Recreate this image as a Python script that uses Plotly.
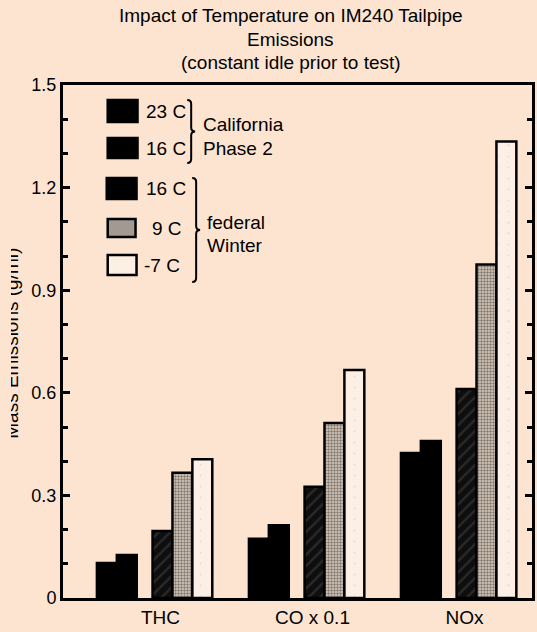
import plotly.graph_objects as go

# ---- data ----
categories = ["THC", "CO x 0.1", "NOx"]
ca_23C = [0.102, 0.173, 0.424]
ca_16C = [0.126, 0.213, 0.459]
fed_16C = [0.196, 0.325, 0.611]
fed_9C = [0.366, 0.512, 0.975]
fed_m7C = [0.406, 0.667, 1.335]
y_ticks = [0, 0.3, 0.6, 0.9, 1.2, 1.5]
y_ticktext = ["0", "0.3", "0.6", "0.9", "1.2", "1.5"]

# ---- layout geometry ----
W, H = 537, 632
L, R, T, B = 63, 2, 85, 34
PW, PH = W - L - R, H - T - B
BG = "#fde4d0"
FONT = "Liberation Sans, Arial, sans-serif"

def px(x):
    return (x - L) / PW

def py(y):
    return (H - B - y) / PH

xs = list(range(len(categories)))
bw = 0.131
series = [
    ("23 C", ca_23C, -0.418, dict(color="black")),
    ("16 C", ca_16C, -0.287, dict(color="black")),
    ("16 C fed", fed_16C, -0.052, dict(color="black", pattern=dict(shape="/", bgcolor="#0e0e0e", fgcolor="#4a4541", size=8, solidity=0.3))),
    ("9 C", fed_9C, 0.079, dict(color="#a09890", pattern=dict(shape=".", bgcolor="#d9cbbe", fgcolor="#2a2622", size=3, solidity=0.5))),
    ("-7 C", fed_m7C, 0.210, dict(color="#fcefe4", pattern=dict(shape=".", bgcolor="#fcf0e6", fgcolor="#d2c3b5", size=11, solidity=0.03))),
]

fig = go.Figure()
for name, vals, off, mk in series:
    mk = dict(mk)
    mk["line"] = dict(color="black", width=2.5)
    fig.add_trace(go.Bar(x=xs, y=vals, name=name, offset=off, width=bw,
                         marker=mk, showlegend=False, hoverinfo="skip"))

shapes = []
annots = []

# legend swatches
swatches = [
    (108, 100, 138, 122, "black", "23 C", 145, 111),
    (108, 138, 138, 158, "black", "16 C", 145, 148),
    (107, 178, 137, 199, "black", "16 C", 145, 188),
    (108, 219, 136, 237, "#a29a92", "9 C", 151, 228),
    (108, 255, 137, 275, "#fcefe4", "-7 C", 143, 265),
]
for x0, y0, x1, y1, fc, label, tx, ty in swatches:
    shapes.append(dict(type="rect", xref="paper", yref="paper",
                       x0=px(x0), x1=px(x1), y0=py(y1), y1=py(y0),
                       fillcolor=fc, line=dict(color="black", width=2.5)))
    annots.append(dict(x=px(tx), y=py(ty), xref="paper", yref="paper",
                       text=label, showarrow=False, xanchor="left", yanchor="middle",
                       font=dict(size=19, family=FONT, color="black")))

def brace(x, y0, y1, w=4):
    ym = (y0 + y1) / 2
    pts = [("M", [(x, y0)]),
           ("Q", [(x + w, y0), (x + w, y0 + w)]),
           ("L", [(x + w, ym - w)]),
           ("Q", [(x + w, ym), (x + 2 * w, ym)]),
           ("Q", [(x + w, ym), (x + w, ym + w)]),
           ("L", [(x + w, y1 - w)]),
           ("Q", [(x + w, y1), (x, y1)])]
    s = ""
    for cmd, ps in pts:
        s += cmd + " " + " ".join(f"{px(a):.5f},{py(b):.5f}" for a, b in ps) + " "
    return s.strip()

shapes.append(dict(type="path", xref="paper", yref="paper", path=brace(188, 100, 163),
                   line=dict(color="black", width=2)))
shapes.append(dict(type="path", xref="paper", yref="paper", path=brace(193, 178, 282),
                   line=dict(color="black", width=2)))

for txt, tx, ty in [("California", 202, 124), ("Phase 2", 202, 148),
                    ("federal", 206, 222), ("Winter", 206, 245)]:
    annots.append(dict(x=px(tx), y=py(ty), xref="paper", yref="paper",
                       text=txt, showarrow=False, xanchor="left", yanchor="middle",
                       font=dict(size=19, family=FONT, color="black")))

# y axis title (cut off at left edge as in the reference)
annots.append(dict(x=px(23), y=py(343), xref="paper", yref="paper",
                   text="Mass Emissions (g/mi)", textangle=-90, showarrow=False,
                   xanchor="right", yanchor="middle",
                   font=dict(size=19, family=FONT, color="black")))
# background-coloured strip hiding the left half of the axis title
annots.append(dict(x=px(0), y=py(343), xref="paper", yref="paper",
                   text=" ", showarrow=False, xanchor="left", yanchor="middle",
                   width=11, height=260, bgcolor=BG, borderpad=0, borderwidth=0))

# title lines
for txt, ty in [("Impact of Temperature on IM240 Tailpipe", 16),
                ("Emissions", 40), ("(constant idle prior to test)", 63)]:
    annots.append(dict(x=px(292), y=py(ty), xref="paper", yref="paper",
                       text=txt, showarrow=False, xanchor="center", yanchor="middle",
                       font=dict(size=19, family=FONT, color="black")))

fig.update_layout(
    width=W, height=H,
    margin=dict(l=L, r=R, t=T, b=B, pad=0),
    paper_bgcolor=BG, plot_bgcolor=BG,
    shapes=shapes, annotations=annots,
    showlegend=False,
    font=dict(family=FONT, color="black", size=18),
    xaxis=dict(range=[-0.641, 2.444], tickvals=xs, ticktext=categories,
               showgrid=False, zeroline=False, ticks="", showline=True,
               linecolor="black", linewidth=3, mirror=True,
               tickfont=dict(size=19, family=FONT, color="black")),
    yaxis=dict(range=[0, 1.5], tickvals=y_ticks, ticktext=y_ticktext,
               showgrid=False, zeroline=False, ticks="inside", ticklen=7,
               tickwidth=3, tickcolor="black", showline=True, linecolor="black",
               linewidth=3, mirror="ticks",
               minor=dict(dtick=0.1, ticks="inside", ticklen=5, tickwidth=3,
                          tickcolor="black", showgrid=False),
               tickfont=dict(size=18, family=FONT, color="black")),
)

fig.write_html("out.html", config={"displayModeBar": False},
               post_script="document.body.style.margin='0px';")
